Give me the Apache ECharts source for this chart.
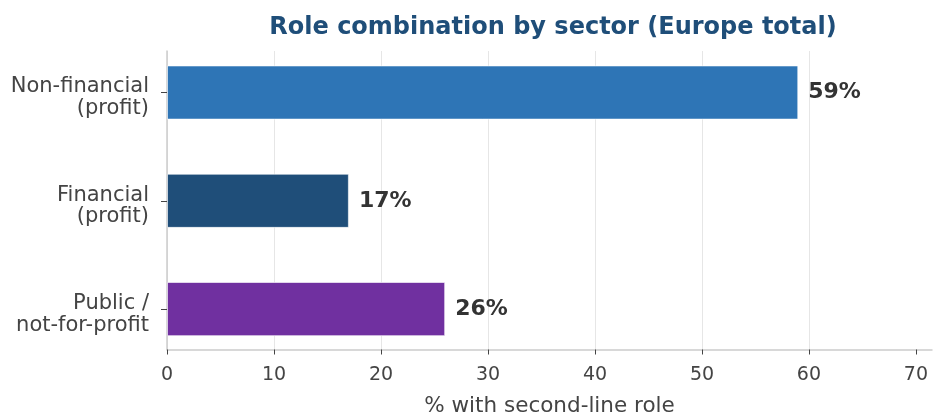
<!DOCTYPE html>
<html>
<head>
<meta charset="utf-8">
<script src="https://cdn.jsdelivr.net/npm/echarts@6/dist/echarts.min.js"></script>
<style>
  html, body { margin: 0; padding: 0; background: #fff; }
  #chart { width: 933px; height: 416px; }
</style>
</head>
<body>
<div id="chart"></div>
<script>
// data
const sectors = ['Non-financial\n(profit)', 'Financial\n(profit)', 'Public /\nnot-for-profit'];
const shares = [59, 17, 26];
const barColors = ['#2e75b6', '#1f4e79', '#7030a0'];
const xTicks = [0, 10, 20, 30, 40, 50, 60, 70];
const xMax = 71.5;

const chartDom = document.getElementById('chart');
const myChart = echarts.init(chartDom);
const font = '"DejaVu Sans", sans-serif';

const barData = shares.map((v, i) => {
  return {
    value: v,
    itemStyle: { color: barColors[i] }
  }
});

// first line gets a taller box so the two-line label sits a bit lower
function sectorLabel(v) {
  return v.split('\n').map((s, i) => (i === 0 ? '{a|' : '{b|') + s + '}').join('\n');
}

const option = {
  animation: false,
  textStyle: { fontFamily: font },
  title: {
    text: 'Role combination by sector (Europe total)',
    left: 548,
    textAlign: 'center',
    top: 11,
    textStyle: { fontFamily: font, fontSize: 24, fontWeight: 'bold', color: '#1f4e79' }
  },
  // grid 0 holds the bars, grid 1 holds the visible axes
  grid: [
    { left: 167, right: 1, top: 38.4, height: 324.8, outerBoundsMode: 'none' },
    { left: 167, right: 1, top: 51, height: 298.5, outerBoundsMode: 'none' }
  ],
  xAxis: [
    {
      gridIndex: 0, type: 'value', min: 0, max: xMax,
      show: false
    },
    {
      gridIndex: 1, type: 'value', min: 0, max: xMax, interval: 10,
      name: '% with second-line role',
      nameLocation: 'middle',
      nameGap: 46,
      nameTextStyle: { fontFamily: font, fontSize: 21.5, color: '#444' },
      axisLine: { show: true, lineStyle: { color: '#cccccc', width: 1.5 } },
      axisTick: { show: true, length: 5, lineStyle: { color: '#444' }, customValues: xTicks },
      axisLabel: { fontFamily: font, fontSize: 19, color: '#444', margin: 16, showMaxLabel: false },
      splitLine: { show: true, showMaxLine: false, lineStyle: { color: '#e6e6e6', width: 1 } }
    }
  ],
  yAxis: [
    {
      gridIndex: 0, type: 'category', data: sectors, inverse: true,
      axisLine: { show: false },
      axisTick: { show: true, alignWithLabel: true, length: 6, lineStyle: { color: '#444' } },
      axisLabel: {
        margin: 18,
        align: 'right',
        formatter: sectorLabel,
        rich: {
          a: { fontFamily: font, fontSize: 21, color: '#444', lineHeight: 32, verticalAlign: 'bottom', align: 'right' },
          b: { fontFamily: font, fontSize: 21, color: '#444', lineHeight: 22, align: 'right' }
        }
      }
    },
    {
      gridIndex: 1, type: 'value', min: 0, max: 1,
      axisLine: { show: true, lineStyle: { color: '#cccccc', width: 1.5 } },
      axisTick: { show: false },
      axisLabel: { show: false },
      splitLine: { show: false }
    }
  ],
  series: [
    {
      type: 'bar',
      xAxisIndex: 0,
      yAxisIndex: 0,
      data: barData,
      barWidth: '50%',
      itemStyle: { borderColor: 'rgba(255,255,255,0.6)', borderWidth: 1 },
      label: {
        show: true,
        position: 'right',
        distance: 10,
        formatter: p => p.value + '%',
        fontFamily: font,
        fontSize: 22,
        fontWeight: 'bold',
        color: '#333'
      }
    }
  ]
};

myChart.setOption(option);
</script>
</body>
</html>
